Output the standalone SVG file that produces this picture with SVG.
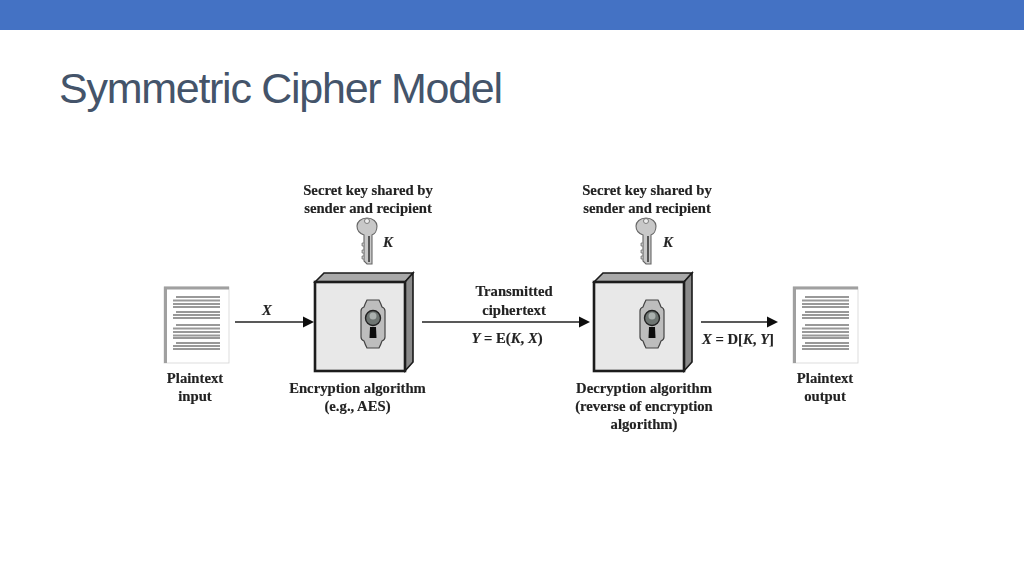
<svg xmlns="http://www.w3.org/2000/svg" width="1024" height="576" viewBox="0 0 1024 576">
<style>
.t{font-family:"Liberation Serif",serif;font-size:14.7px;font-weight:bold;fill:#222;stroke:#222;stroke-width:0.15;text-anchor:middle}
.i{font-style:italic}
.c{stroke:#222;stroke-width:1.5;fill:none}
.ah{fill:#111;stroke:none}
.front{fill:#e8e8e8;stroke:#1a1a1a;stroke-width:2.6}
.top{fill:#a9a9a9;stroke:#1a1a1a;stroke-width:1.6}
.side{fill:#8a8a8a;stroke:#1a1a1a;stroke-width:1.6}
.plate{fill:#bdbdbd;stroke:#444;stroke-width:1.2}
.ln{stroke:#999;stroke-width:1.8;fill:none}
.keyb{fill:#c8c8c8;stroke:#666;stroke-width:1.1}
</style>
<defs>
<filter id="soft" x="-5%" y="-5%" width="110%" height="110%"><feGaussianBlur stdDeviation="0.45"/></filter>
<g id="doc">
<rect x="0" y="0" width="65" height="76" fill="#fff" stroke="#d4d4d4" stroke-width="0.8"/>
<path d="M1.500 76V1H65" fill="none" stroke="#a0a0a0" stroke-width="3"/>
<path class="ln" d="M12 10H56M9 13.500H56M9 17H56M9 20H56M12 25H56M9 28H56M9 31H56M12 38H56M9 41.500H56M9 45H56M9 48.500H56M9 51H56M12 56H56M9 59H56M9 62H56"/>
</g>
<g id="box">
<path class="top" d="M0 9L9 0H98L90 9Z"/>
<path class="side" d="M90 9L98 0V89L90 98Z"/>
<rect class="front" x="0" y="9" width="90" height="89"/>
</g>
<g id="lock">
<path class="plate" d="M-6 -24H6Q8 -20 9 -17Q12 -16 12 -13V13Q12 16 9 17Q8 20 6 24H-6Q-8 20 -9 17Q-12 16 -12 13V-13Q-12 -16 -9 -17Q-8 -20 -6 -24Z"/>
<circle cx="0" cy="-6" r="7.500" fill="#6e7472" stroke="#222" stroke-width="1.4"/>
<circle cx="0" cy="-8" r="3.500" fill="#aab0ae"/>
<path d="M-3 3H3L3.500 14H-3.500Z" fill="#111"/>
</g>
<g id="key">
<path class="keyb" d="M0 -22C-6 -22 -10 -18 -10 -14C-10 -9 -6 -6 -3 -5V21L0 24H5V-5C8 -6 10 -10 10 -14C10 -18 6 -22 0 -22Z"/>
<circle cx="0" cy="-19" r="2.500" fill="#eee" stroke="#666" stroke-width="0.8"/>
<path d="M2 -4V22" stroke="#555" stroke-width="2"/>
<path d="M-3 3H-5V6H-3M-3 10H-5V13H-3M-3 16H-5V19H-3" fill="#bbb" stroke="#777" stroke-width="0.8"/>
</g>
</defs>
<rect id="banner" x="0" y="0" width="1024" height="30" fill="#4472c4"/>
<text id="title" x="59" y="102.500" font-family="'Liberation Sans',Arial,sans-serif" font-size="43" letter-spacing="-1.27" fill="#44546a">Symmetric Cipher Model</text>

<g id="diagram" filter="url(#soft)">
<g id="connectors">
<path class="c" d="M235 322H304"/><path class="ah" d="M303 316.500L314 322L303 327.500Z"/>
<path class="c" d="M422 322H580"/><path class="ah" d="M579 316.500L590 322L579 327.500Z"/>
<path class="c" d="M701 322H768"/><path class="ah" d="M767 316.500L778 322L767 327.500Z"/>
</g>
<g id="plaintext-input">
<use href="#doc" x="164" y="287"/>
<text class="t" x="195" y="383">Plaintext</text>
<text class="t" x="195" y="401">input</text>
</g>
<g id="encryption">
<use href="#box" x="315" y="273"/>
<use href="#lock" x="373" y="324"/>
<text class="t" x="357.500" y="393">Encryption algorithm</text>
<text class="t" x="357.500" y="411">(e.g., AES)</text>
</g>
<g id="key-left">
<text class="t" x="368" y="195">Secret key shared by</text>
<text class="t" x="368" y="213">sender and recipient</text>
<use href="#key" x="367" y="240"/>
<text class="t i" x="388" y="247">K</text>
</g>
<g id="cipher-label">
<text class="t" x="514" y="296">Transmitted</text>
<text class="t" x="514" y="315">ciphertext</text>
<text class="t" x="507" y="343"><tspan class="i">Y</tspan> = E(<tspan class="i">K</tspan>, <tspan class="i">X</tspan>)</text>
</g>
<text id="x-label" class="t i" x="267" y="315">X</text>
<text id="d-label" class="t" x="738" y="344"><tspan class="i">X</tspan> = D[<tspan class="i">K</tspan>, <tspan class="i">Y</tspan>]</text>
<g id="decryption">
<use href="#box" x="594" y="273"/>
<use href="#lock" x="652" y="324"/>
<text class="t" x="644" y="393">Decryption algorithm</text>
<text class="t" x="644" y="411">(reverse of encryption</text>
<text class="t" x="644" y="429">algorithm)</text>
</g>
<g id="key-right">
<text class="t" x="647" y="195">Secret key shared by</text>
<text class="t" x="647" y="213">sender and recipient</text>
<use href="#key" x="646" y="240"/>
<text class="t i" x="668" y="247">K</text>
</g>
<g id="plaintext-output">
<use href="#doc" x="793" y="287"/>
<text class="t" x="825" y="383">Plaintext</text>
<text class="t" x="825" y="401">output</text>
</g>
</g>
</svg>
